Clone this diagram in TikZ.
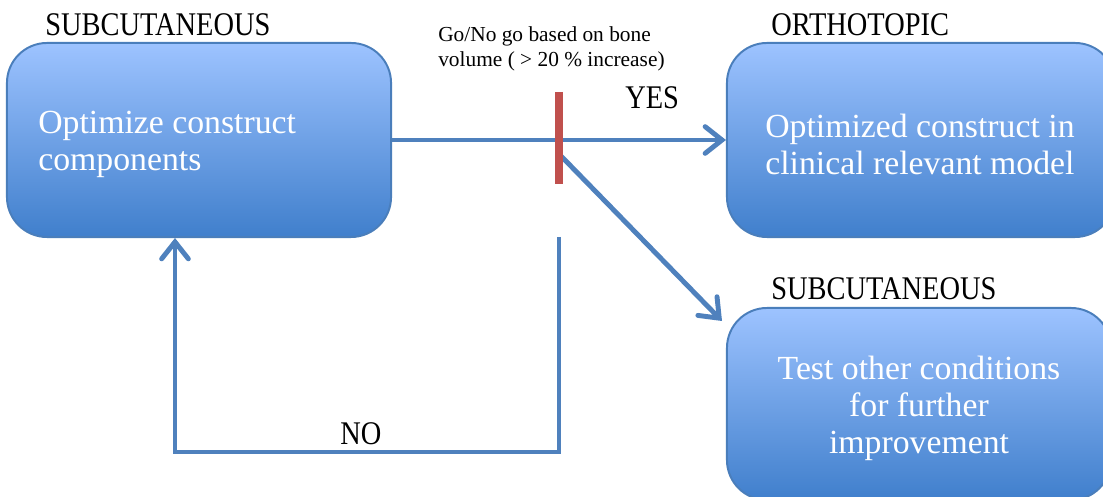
\documentclass[tikz,border=0pt]{standalone}
\usepackage{fontspec}
\setmainfont{Liberation Serif}
\newfontfamily\capsfont[FakeStretch=0.86]{Liberation Serif}
\usetikzlibrary{arrows.meta}

\definecolor{flowblue}{RGB}{79,129,189}
\definecolor{gatered}{RGB}{192,80,77}
\definecolor{boxtop}{RGB}{157,195,255}
\definecolor{boxbot}{RGB}{64,127,204}
\definecolor{boxline}{RGB}{74,126,187}

\begin{document}
\begin{tikzpicture}[x=0.025cm, y=-0.025cm,
		box/.style={rectangle, rounded corners=1cm, draw=boxline, line width=1.4pt, top color=boxtop, bottom color=boxbot, minimum width=9.6cm, minimum height=4.85cm},
		boxtext/.style={inner sep=0pt, text=white, font=\fontsize{24}{26.3}\selectfont},
		heading/.style={inner sep=0pt, anchor=base west, font=\capsfont\fontsize{23.5}{28}\selectfont},
		flow/.style={draw=flowblue, line width=3.5pt, -{Straight Barb[length=12pt, width=19pt, line cap=round]}}]
		\useasboundingbox (0,0) rectangle (1103,497);
		\clip (0,0) rectangle (1103,497);

		\node[box] (optimize) at (199,140) {};
		\node[box, minimum width=9.7cm] (clinical) at (921,140) {};
		\node[box, minimum height=4.8cm] (further) at (919,404) {};

		\node[boxtext, anchor=west, align=left] (optimizeText) at (38,144) {Optimize construct\\components};
		\node[boxtext, anchor=west, align=left] (clinicalText) at (765,144) {Optimized construct in\\clinical relevant model};
		\node[boxtext, align=center] (furtherText) at (919,408) {Test other conditions\\for further\\improvement};

		\node[heading] (subLeft) at (45,36) {SUBCUTANEOUS};
		\node[heading] (ortho) at (771,36) {ORTHOTOPIC};
		\node[heading] (subRight) at (771,300) {SUBCUTANEOUS};
		\node[heading] (yes) at (625,109) {YES};
		\node[heading] (no) at (340,444) {NO};
		\node[inner sep=0pt, anchor=north west, align=left, font=\fontsize{15.2}{18.2}\selectfont] (criterion) at (438,26) {Go/No go based on bone\\volume ( > 20 \% increase)};

		\coordinate (gateTop) at (559,92);
		\coordinate (gateBottom) at (559,184);
		\coordinate (split) at (561,156);
		\coordinate (furtherIn) at (722,321);
		\coordinate (noStart) at (559,237);
		\coordinate (noCorner) at (175,452);

		\draw[flow] (optimize.east) -- (clinical.west);
		\draw[flow] (split) -- (furtherIn);
		\draw[flow] (noStart) |- (noCorner) -- (noCorner |- optimize.south);

		\draw[gatered, line width=5pt] (gateTop) -- (gateBottom);
	\end{tikzpicture}
\end{document}
